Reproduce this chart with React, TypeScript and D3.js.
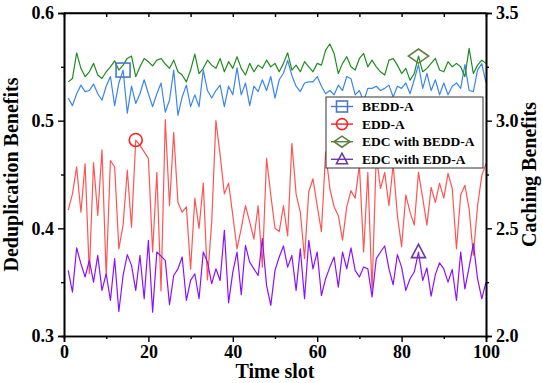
import React, { useEffect, useRef } from 'react';
import * as d3 from 'd3';

// time slots 1..100
const timeSlots = d3.range(1, 101);

// left axis (deduplication benefits)
const beddA = [
  0.521, 0.514, 0.525, 0.533, 0.527, 0.528, 0.534, 0.525, 0.519, 0.532,
  0.541, 0.514, 0.535, 0.547, 0.507, 0.532, 0.516, 0.525, 0.538, 0.525,
  0.513, 0.525, 0.535, 0.508, 0.519, 0.547, 0.505, 0.522, 0.533, 0.513,
  0.524, 0.513, 0.547, 0.528, 0.521, 0.528, 0.533, 0.513, 0.532, 0.524,
  0.549, 0.524, 0.535, 0.514, 0.532, 0.527, 0.538, 0.528, 0.541, 0.521,
  0.538, 0.544, 0.556, 0.542, 0.532, 0.527, 0.535, 0.536, 0.536, 0.541,
  0.532, 0.525, 0.528, 0.524, 0.533, 0.528, 0.541, 0.539, 0.524, 0.528,
  0.518, 0.530, 0.530, 0.532, 0.528, 0.530, 0.533, 0.522, 0.532, 0.530,
  0.535, 0.525, 0.538, 0.552, 0.530, 0.544, 0.528, 0.538, 0.524, 0.535,
  0.524, 0.532, 0.535, 0.530, 0.552, 0.528, 0.527, 0.547, 0.553, 0.535,
];

const eddA = [
  0.417, 0.432, 0.457, 0.415, 0.460, 0.358, 0.461, 0.412, 0.473, 0.356,
  0.463, 0.457, 0.381, 0.403, 0.454, 0.401, 0.482, 0.477, 0.471, 0.465,
  0.378, 0.452, 0.342, 0.501, 0.421, 0.489, 0.424, 0.415, 0.420, 0.362,
  0.428, 0.400, 0.442, 0.352, 0.406, 0.500, 0.468, 0.432, 0.442, 0.412,
  0.381, 0.400, 0.421, 0.406, 0.390, 0.421, 0.364, 0.465, 0.431, 0.400,
  0.397, 0.421, 0.393, 0.479, 0.432, 0.415, 0.372, 0.434, 0.446, 0.421,
  0.397, 0.471, 0.437, 0.420, 0.412, 0.389, 0.420, 0.435, 0.428, 0.459,
  0.378, 0.452, 0.342, 0.468, 0.437, 0.452, 0.421, 0.459, 0.412, 0.383,
  0.431, 0.415, 0.403, 0.452, 0.428, 0.403, 0.438, 0.424, 0.442, 0.428,
  0.451, 0.437, 0.381, 0.431, 0.440, 0.418, 0.375, 0.421, 0.449, 0.460,
];

// right axis (caching benefits)
const edcWithBeddA = [
  3.180, 3.196, 3.315, 3.243, 3.204, 3.227, 3.266, 3.212, 3.196, 3.227,
  3.250, 3.278, 3.235, 3.258, 3.289, 3.300, 3.204, 3.250, 3.289, 3.274,
  3.254, 3.281, 3.289, 3.263, 3.243, 3.281, 3.227, 3.212, 3.180, 3.235,
  3.309, 3.219, 3.243, 3.281, 3.258, 3.243, 3.289, 3.227, 3.274, 3.243,
  3.297, 3.243, 3.212, 3.266, 3.227, 3.258, 3.243, 3.281, 3.250, 3.266,
  3.227, 3.266, 3.315, 3.235, 3.258, 3.227, 3.274, 3.250, 3.227, 3.266,
  3.258, 3.328, 3.356, 3.312, 3.219, 3.266, 3.297, 3.250, 3.235, 3.289,
  3.312, 3.250, 3.281, 3.250, 3.227, 3.212, 3.281, 3.289, 3.258, 3.219,
  3.243, 3.188, 3.219, 3.300, 3.227, 3.243, 3.266, 3.289, 3.235, 3.227,
  3.274, 3.250, 3.266, 3.250, 3.204, 3.336, 3.219, 3.258, 3.281, 3.266,
];

const edcWithEddA = [
  2.305, 2.204, 2.409, 2.336, 2.274, 2.351, 2.250, 2.374, 2.212, 2.289,
  2.165, 2.359, 2.114, 2.281, 2.378, 2.328, 2.212, 2.374, 2.173, 2.444,
  2.111, 2.390, 2.371, 2.351, 2.145, 2.281, 2.312, 2.367, 2.165, 2.258,
  2.289, 2.173, 2.390, 2.343, 2.243, 2.312, 2.258, 2.491, 2.154, 2.297,
  2.390, 2.192, 2.421, 2.343, 2.312, 2.281, 2.452, 2.235, 2.142, 2.305,
  2.367, 2.418, 2.320, 2.374, 2.212, 2.405, 2.173, 2.444, 2.312, 2.390,
  2.188, 2.266, 2.320, 2.367, 2.227, 2.390, 2.312, 2.409, 2.305, 2.274,
  2.320, 2.312, 2.181, 2.359, 2.390, 2.418, 2.312, 2.238, 2.378, 2.320,
  2.212, 2.266, 2.297, 2.390, 2.258, 2.316, 2.185, 2.285, 2.340, 2.312,
  2.250, 2.309, 2.165, 2.390, 2.219, 2.320, 2.429, 2.266, 2.173, 2.250,
];

const xTicks = [0, 20, 40, 60, 80, 100];
const leftTicks = [0.3, 0.4, 0.5, 0.6];
const rightTicks = [2.0, 2.5, 3.0, 3.5];

const series = [
  { name: 'BEDD-A', values: beddA, axis: 'left', color: '#3a86ee', mark: 'square', markColor: '#4a78c8', markAt: 14 },
  { name: 'EDD-A', values: eddA, axis: 'left', color: '#ff5454', mark: 'circle', markColor: '#ff2020', markAt: 17 },
  { name: 'EDC with BEDD-A', values: edcWithBeddA, axis: 'right', color: '#1f8c1f', mark: 'diamond', markColor: '#5c7f3c', markAt: 84 },
  { name: 'EDC with EDD-A', values: edcWithEddA, axis: 'right', color: '#8a10ff', mark: 'triangle', markColor: '#6a3aa8', markAt: 84 },
];

const FONT = '"Liberation Serif", "Times New Roman", serif';

const drawMarker = (g, shape, cx, cy, color, s) => {
  if (shape === 'square') {
    g.append('rect').attr('x', cx - s).attr('y', cy - s).attr('width', 2 * s).attr('height', 2 * s)
      .attr('fill', 'none').attr('stroke', color).attr('stroke-width', 1.6);
  } else if (shape === 'circle') {
    g.append('circle').attr('cx', cx).attr('cy', cy).attr('r', s)
      .attr('fill', 'none').attr('stroke', color).attr('stroke-width', 1.6);
  } else if (shape === 'diamond') {
    const w = s * 1.45, h = s;
    g.append('path').attr('d', `M${cx - w},${cy}L${cx},${cy - h}L${cx + w},${cy}L${cx},${cy + h}Z`)
      .attr('fill', 'none').attr('stroke', color).attr('stroke-width', 1.6);
  } else {
    g.append('path').attr('d', `M${cx - s},${cy + s * 0.8}L${cx},${cy - s * 1.1}L${cx + s},${cy + s * 0.8}Z`)
      .attr('fill', 'none').attr('stroke', color).attr('stroke-width', 1.6);
  }
};

const App = () => {
  const svgRef = useRef(null);
  const width = 542;
  const height = 383;
  const margin = { top: 13, right: 56, bottom: 47, left: 64 };

  useEffect(() => {
    const svg = d3.select(svgRef.current);
    svg.selectAll('*').remove();

    const pw = width - margin.left - margin.right;
    const ph = height - margin.top - margin.bottom;

    const x = d3.scaleLinear().domain([0, 100]).range([0, pw]);
    const yL = d3.scaleLinear().domain([0.3, 0.6]).range([ph, 0]);
    const yR = d3.scaleLinear().domain([2.0, 3.5]).range([ph, 0]);

    const plot = svg.append('g').attr('transform', `translate(${margin.left},${margin.top})`);

    // data lines
    series.forEach(s => {
      const y = s.axis === 'left' ? yL : yR;
      const line = d3.line().x((d, i) => x(timeSlots[i])).y(d => y(d));
      plot.append('path').datum(s.values)
        .attr('d', line)
        .attr('fill', 'none')
        .attr('stroke', s.color)
        .attr('stroke-width', 1.2)
        .attr('stroke-linejoin', 'round');
    });

    // single markers on curves
    series.forEach(s => {
      const y = s.axis === 'left' ? yL : yR;
      const i = timeSlots.indexOf(s.markAt);
      const size = s.mark === 'circle' ? 6.5 : 7;
      drawMarker(plot, s.mark, x(s.markAt), y(s.values[i]), s.markColor, size);
    });

    // axes
    const axisStyle = g => {
      g.attr('font-family', FONT);
      g.selectAll('path').attr('stroke', '#000').attr('stroke-width', 1.6);
      g.selectAll('line').attr('stroke', '#000').attr('stroke-width', 1.4);
      g.selectAll('text').attr('font-family', FONT).attr('font-weight', 'bold').attr('font-size', 18).attr('fill', '#000');
    };

    // minor ticks
    const bx = plot.append('g').attr('transform', `translate(0,${ph})`)
      .call(d3.axisBottom(x).tickValues(d3.range(10, 100, 20)).tickSize(3).tickFormat(() => ''));
    axisStyle(bx);
    const bxMaj = plot.append('g').attr('transform', `translate(0,${ph})`)
      .call(d3.axisBottom(x).tickValues(xTicks).tickSize(6).tickPadding(3).tickFormat(d3.format('d')));
    axisStyle(bxMaj);

    const tx = plot.append('g')
      .call(d3.axisBottom(x).tickValues(d3.range(10, 100, 10)).tickSize(4).tickFormat(() => ''));
    axisStyle(tx);

    const ly = plot.append('g')
      .call(d3.axisLeft(yL).tickValues([0.35, 0.45, 0.55]).tickSize(3).tickFormat(() => ''));
    axisStyle(ly);
    const lyMaj = plot.append('g')
      .call(d3.axisLeft(yL).tickValues(leftTicks).tickSize(6).tickPadding(4).tickFormat(d3.format('.1f')));
    axisStyle(lyMaj);

    const ry = plot.append('g').attr('transform', `translate(${pw},0)`)
      .call(d3.axisRight(yR).tickValues([2.25, 2.75, 3.25]).tickSize(3).tickFormat(() => ''));
    axisStyle(ry);
    const ryMaj = plot.append('g').attr('transform', `translate(${pw},0)`)
      .call(d3.axisRight(yR).tickValues(rightTicks).tickSize(6).tickPadding(4).tickFormat(d3.format('.1f')));
    axisStyle(ryMaj);

    // frame top line
    plot.append('line').attr('x1', 0).attr('x2', pw).attr('y1', 0).attr('y2', 0)
      .attr('stroke', '#000').attr('stroke-width', 1.6);

    // axis titles
    svg.append('text')
      .attr('x', margin.left + pw / 2).attr('y', 378)
      .attr('text-anchor', 'middle')
      .attr('font-family', FONT).attr('font-weight', 'bold').attr('font-size', 20)
      .text('Time slot');

    svg.append('text')
      .attr('transform', `translate(18,${margin.top + ph / 2}) rotate(-90)`)
      .attr('text-anchor', 'middle')
      .attr('font-family', FONT).attr('font-weight', 'bold').attr('font-size', 20)
      .text('Deduplication Benefits');

    svg.append('text')
      .attr('transform', `translate(536,${margin.top + ph / 2}) rotate(-90)`)
      .attr('text-anchor', 'middle')
      .attr('font-family', FONT).attr('font-weight', 'bold').attr('font-size', 20)
      .text('Caching Benefits');

    // legend
    const lg = svg.append('g').attr('transform', 'translate(326,97)');
    lg.append('rect').attr('width', 157).attr('height', 71)
      .attr('fill', '#fff').attr('stroke', '#333').attr('stroke-width', 1);
    series.forEach((s, i) => {
      const cy = 9.5 + i * 17.6;
      lg.append('line').attr('x1', 5).attr('x2', 27).attr('y1', cy).attr('y2', cy)
        .attr('stroke', s.markColor).attr('stroke-width', 1.4);
      drawMarker(lg, s.mark, 16, cy, s.markColor, 5.5);
      lg.append('text').attr('x', 36).attr('y', cy).attr('dy', '0.35em')
        .attr('font-family', FONT).attr('font-weight', 'bold').attr('font-size', 13.5)
        .text(s.name);
    });
  }, []);

  return (
    <svg ref={svgRef} width={width} height={height}
      style={{ position: 'absolute', left: 0, top: 0, background: '#fff' }} />
  );
};

export default App;
